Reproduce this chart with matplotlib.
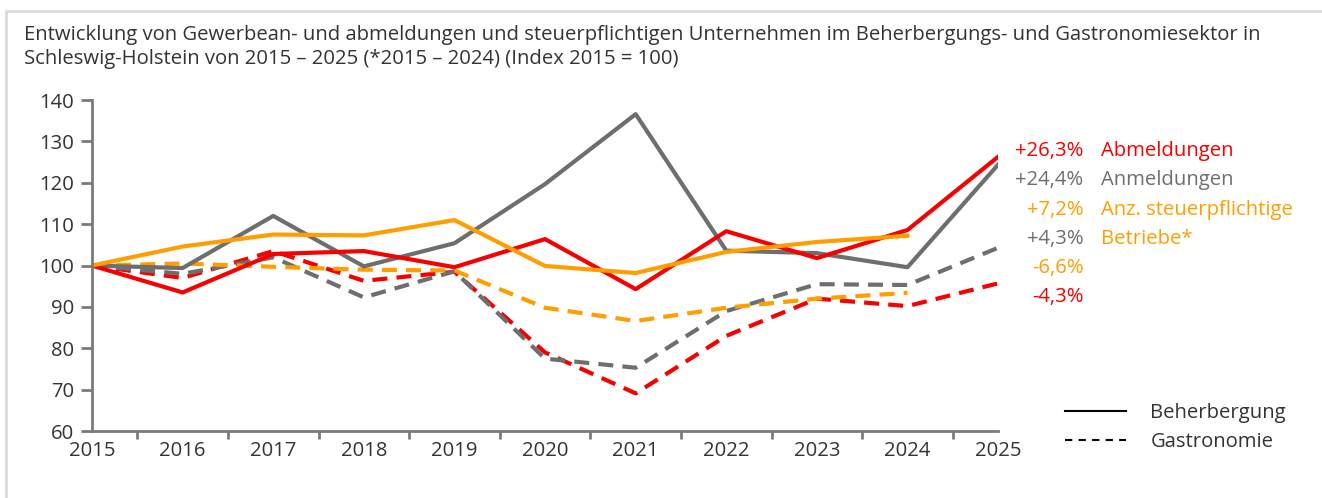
import matplotlib
matplotlib.use("Agg")
import matplotlib.pyplot as plt
from matplotlib.lines import Line2D

plt.rcParams['font.family'] = ['Open Sans', 'DejaVu Sans']

years = [2015, 2016, 2017, 2018, 2019, 2020, 2021, 2022, 2023, 2024, 2025]
years_betr = years[:-1]

# Beherbergung (durchgezogen)
ab_beh = [100, 93.5, 102.8, 103.5, 99.6, 106.4, 94.3, 108.3, 101.8, 108.6, 126.3]
an_beh = [100, 99.4, 112.0, 99.8, 105.4, 119.7, 136.6, 103.6, 103.0, 99.6, 124.4]
betr_beh = [100, 104.6, 107.5, 107.3, 111.0, 99.9, 98.2, 103.3, 105.7, 107.2]

# Gastronomie (gestrichelt)
ab_gas = [100, 97.0, 103.5, 96.3, 98.5, 79.0, 69.1, 83.0, 92.0, 90.2, 95.7]
an_gas = [100, 98.0, 102.0, 92.3, 98.6, 77.5, 75.3, 89.0, 95.5, 95.3, 104.3]
betr_gas = [100, 100.5, 99.7, 99.0, 98.8, 89.8, 86.6, 89.8, 92.0, 93.4]

red = '#F70000'
gray = '#6E6E6E'
orange = '#FF9E00'
txt = '#333333'
fs = 14.6

fig = plt.figure(figsize=(13.22, 4.98), dpi=100)
ax = fig.add_axes([0.0696, 0.1345, 0.6854, 0.6645])

lw = 3.0
dash = (3.6, 2.2)
ax.plot(years, ab_gas, color=red, lw=lw, dashes=dash)
ax.plot(years, an_gas, color=gray, lw=lw, dashes=dash)
ax.plot(years_betr, betr_gas, color=orange, lw=lw, dashes=dash)
ax.plot(years, an_beh, color=gray, lw=lw)
ax.plot(years, ab_beh, color=red, lw=lw)
ax.plot(years_betr, betr_beh, color=orange, lw=lw)

ax.set_xlim(2015, 2025)
ax.set_ylim(60, 140)
ax.set_yticks(range(60, 141, 10))
ax.set_xticks(years)
ax.set_xticks([y + 0.5 for y in years[:-1]] + [2025], minor=True)
ax.tick_params(axis='x', which='major', length=0, pad=7, labelsize=fs, labelcolor=txt)
ax.tick_params(axis='x', which='minor', length=6, width=2, color='#7a7a7a')
ax.tick_params(axis='y', length=8, width=2, color='#7a7a7a', pad=5,
               labelsize=fs, labelcolor=txt)
for s in ['top', 'right']:
    ax.spines[s].set_visible(False)
for s in ['left', 'bottom']:
    ax.spines[s].set_color('#7a7a7a')
    ax.spines[s].set_linewidth(2)

fig.text(0.0185, 0.950,
         'Entwicklung von Gewerbean- und abmeldungen und steuerpflichtigen Unternehmen im Beherbergungs- und Gastronomiesektor in\n'
         'Schleswig-Holstein von 2015 – 2025 (*2015 – 2024) (Index 2015 = 100)',
         fontsize=fs, color=txt, va='top', ha='left', linespacing=1.3)

# Veränderungswerte rechts
values = ['+26,3%', '+24,4%', '+7,2%', '+4,3%', '-6,6%', '-4,3%']
value_colors = [red, gray, orange, gray, orange, red]
ys = [0.697, 0.638, 0.579, 0.520, 0.462, 0.403]
for v, c, y in zip(values, value_colors, ys):
    fig.text(0.8195, y, v, color=c, fontsize=fs, ha='right', va='center')

names = ['Abmeldungen', 'Anmeldungen', 'Anz. steuerpflichtige', 'Betriebe*']
name_colors = [red, gray, orange, orange]
for n, c, y in zip(names, name_colors, ys[:4]):
    fig.text(0.8330, y, n, color=c, fontsize=fs, ha='left', va='center')

handles = [Line2D([], [], color='black', lw=1.5),
           Line2D([], [], color='black', lw=1.5, dashes=(3.5, 3))]
fig.legend(handles, ['Beherbergung', 'Gastronomie'], loc='upper left',
           bbox_to_anchor=(0.792, 0.228), frameon=False, fontsize=fs,
           handlelength=3.0, handletextpad=1.2, labelspacing=0.45,
           labelcolor=txt)

# dünner grauer Rahmen oben und links
fig.add_artist(Line2D([0.0045, 1.0], [0.978, 0.978], color='#dcdcdc', lw=2,
                      transform=fig.transFigure))
fig.add_artist(Line2D([0.0045, 0.0045], [0.0, 0.978], color='#dcdcdc', lw=2,
                      transform=fig.transFigure))

fig.savefig('out.png', dpi=100)
